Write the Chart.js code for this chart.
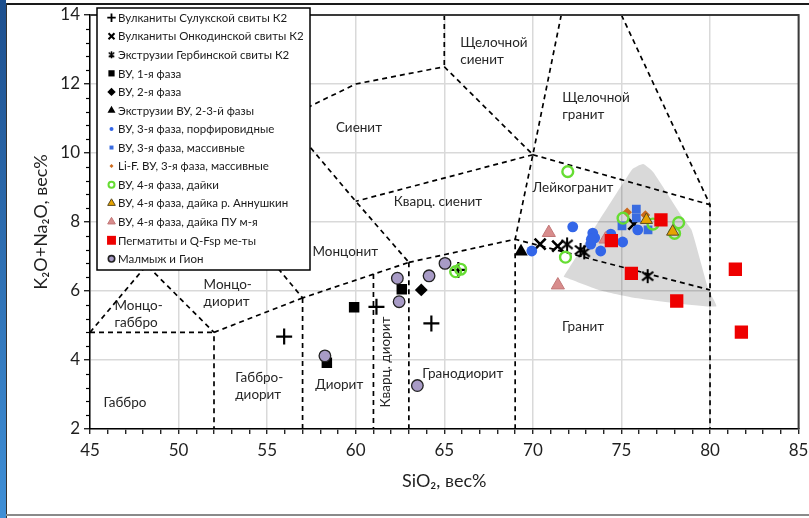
<!DOCTYPE html>
<html><head><meta charset="utf-8">
<script src="https://cdn.jsdelivr.net/npm/chart.js@4.4.1/dist/chart.umd.min.js"></script>
<style>
html,body{margin:0;padding:0;background:#fff;}
#wrap{position:relative;width:809px;height:518px;overflow:hidden;background:#fff;}
#bar{position:absolute;left:0;top:0;width:6px;height:518px;background:linear-gradient(#1d4f8e,#3f8fd6);}
#topline{position:absolute;left:6px;top:3px;right:0;height:2px;background:#1a1a1a;}
#leftline{position:absolute;left:6px;top:3px;width:1px;height:515px;background:#333;}
#botline{position:absolute;left:6px;top:514px;right:0;height:2px;background:#8a8a8a;}
canvas{position:absolute;left:0;top:0;}
</style></head><body>
<div id="wrap"><canvas id="c" width="809" height="518"></canvas><div id="bar"></div><div id="topline"></div><div id="leftline"></div><div id="botline"></div></div>
<script>
// ---- Data (SiO2, K2O+Na2O) ----
const seriesNames = [
 'Вулканиты Сулукской свиты К2','Вулканиты Онкодинской свиты К2','Экструзии Гербинской свиты К2',
 'ВУ, 1-я фаза','ВУ, 2-я фаза','Экструзии ВУ, 2-3-й фазы','ВУ, 3-я фаза, порфировидные',
 'ВУ, 3-я фаза, массивные','Li-F. ВУ, 3-я фаза, массивные','ВУ, 4-я фаза, дайки',
 'ВУ, 4-я фаза, дайка р. Аннушкин','ВУ, 4-я фаза, дайка ПУ м-я','Пегматиты и Q-Fsp ме-ты','Малмыж и Гион'];
const sulukSi = [55.96, 61.17, 64.27, 65.79];
const sulukAlk = [4.68, 5.54, 5.06, 6.61];
const onkoSi = [70.41, 71.4, 75.7];
const onkoAlk = [7.36, 7.3, 7.94];
const gerbSi = [71.93, 72.69, 72.9, 76.48];
const gerbAlk = [7.35, 7.19, 7.12, 6.43];
const ph1Si = [59.91, 62.6, 58.37];
const ph1Alk = [5.53, 6.05, 3.92];
const ph2Si = [63.7];
const ph2Alk = [6.03];
const ext23Si = [69.33];
const ext23Alk = [7.14];
const ph3pSi = [69.94, 72.25, 73.38, 73.49, 73.27, 73.83, 74.4, 75.07, 75.92, 73.3];
const ph3pAlk = [7.16, 7.86, 7.68, 7.54, 7.36, 7.16, 7.65, 7.42, 7.77, 7.5];
const ph3mSi = [75.84, 75.84, 75.03, 76.5];
const ph3mAlk = [8.37, 8.12, 7.89, 7.77];
const lifSi = [75.32, 76.35];
const lifAlk = [8.28, 8.2];
const dykeSi = [71.97, 71.84, 75.09, 76.78, 78.23, 78.0, 65.64, 65.92];
const dykeAlk = [9.46, 6.98, 8.11, 7.94, 7.98, 7.67, 6.56, 6.63];
const annSi = [76.41, 77.89];
const annAlk = [8.06, 7.72];
const puSi = [70.9, 71.41, 74.1];
const puAlk = [7.69, 6.17, 7.5];
const pegSi = [74.43, 77.23, 75.56, 78.12, 81.43, 81.77];
const pegAlk = [7.46, 8.06, 6.51, 5.71, 6.63, 4.81];
const malSi = [62.35, 62.45, 64.14, 65.04, 58.26, 63.48];
const malAlk = [6.37, 5.69, 6.44, 6.8, 4.12, 3.26];

// gray field (granite reference field)
const fieldSi = [71.74, 73.72, 75.76, 80.35, 79.92, 78.96, 78.51, 76.79, 76.22, 75.6, 71.74];
const fieldAlk = [6.41, 6.03, 5.8, 5.55, 6.03, 7.77, 8.08, 9.45, 9.68, 9.52, 6.41];

// classification boundaries (each a polyline)
const boundaries = [
 [[65,14],[65,12.5]],
 [[56.8,11.2],[57.4,11.35],[60,12],[65,12.5]],
 [[65,12.5],[70,9.95]],
 [[71.6,14],[70,9.95],[69,7.5],[69,2]],
 [[75,14],[80,8.5],[80,2]],
 [[70,9.95],[80,8.5]],
 [[70,9.95],[60,8.6]],
 [[56.8,10.55],[60,8.6],[63,6.83]],
 [[63,6.83],[69,7.5],[80,6.03]],
 [[63,6.83],[63,2]],
 [[55.3,6.85],[57,5.8],[63,6.83]],
 [[57,5.8],[57,2]],
 [[61,6.49],[61,2]],
 [[57,5.8],[52,4.8],[52,2]],
 [[45,4.8],[52,4.8]],
 [[45,4.8],[48.2,6.75],[52,4.8]]
];

// field names
const fieldNames = [
 {t:['Щелочной','сиенит'], x:65.9, y:13.19},
 {t:['Щелочной','гранит'], x:71.66, y:11.6},
 {t:['Сиенит'], x:58.88, y:10.74},
 {t:['Лейкогранит'], x:69.98, y:9.0},
 {t:['Кварц. сиенит'], x:62.15, y:8.6},
 {t:['Монцонит'], x:57.56, y:7.14},
 {t:['Монцо-','диорит'], x:51.41, y:6.19},
 {t:['Монцо-','габбро'], x:46.38, y:5.57},
 {t:['Габбро'], x:45.76, y:2.77},
 {t:['Габбро-','диорит'], x:53.2, y:3.5},
 {t:['Диорит'], x:57.71, y:3.3},
 {t:['Гранодиорит'], x:63.76, y:3.61},
 {t:['Гранит'], x:71.64, y:4.96},
 {t:['Кварц. диорит'], x:61.71, y:3.94, rot:true}
];

const zip = (a,b) => a.map((v,i)=>({x:v,y:b[i]}));

function makeAsterisk(size, lw){
  const c=document.createElement('canvas'); c.width=c.height=size;
  const g=c.getContext('2d'); g.strokeStyle='#000'; g.lineWidth=lw; g.lineCap='butt';
  const m=size/2, r=size/2-1;
  g.beginPath();
  g.moveTo(m-r*0.8,m-r*0.62); g.lineTo(m+r*0.8,m+r*0.62);
  g.moveTo(m+r*0.8,m-r*0.62); g.lineTo(m-r*0.8,m+r*0.62);
  g.moveTo(m,m-r); g.lineTo(m,m+r);
  g.stroke(); return c;
}
const astBig = makeAsterisk(16, 2);
const astSmall = makeAsterisk(9, 1.5);

const styles = [
 {ps:'cross', r:8, bg:'#000', bc:'#000', bw:2.2, lr:4.2, lbw:1.8},
 {ps:'crossRot', r:7.8, bg:'#000', bc:'#000', bw:2.6, lr:4.2, lbw:2},
 {ps:astBig, r:8, bg:'#000', bc:'#000', bw:1, lps:astSmall},
 {ps:'rect', r:7.4, bg:'#000', bc:'#000', bw:0, lr:4.4},
 {ps:'rectRot', r:6.4, bg:'#000', bc:'#000', bw:0, lr:4.2},
 {ps:'triangle', r:7.8, bg:'#000', bc:'#000', bw:0, lr:4.6},
 {ps:'circle', r:5.4, bg:'#3366e8', bc:'#3366e8', bw:0, lr:2},
 {ps:'rect', r:6.2, bg:'#3a6ce0', bc:'#3a6ce0', bw:0, lr:2.8},
 {ps:'rectRot', r:4.8, bg:'#cc6a1c', bc:'#cc6a1c', bw:0, lr:2},
 {ps:'circle', r:5.4, bg:'rgba(0,0,0,0)', bc:'#66dd33', bw:2.4, lr:3, lbw:2},
 {ps:'triangle', r:7, bg:'#e8a400', bc:'#5a4a20', bw:1, lr:4.4},
 {ps:'triangle', r:7.6, bg:'#d88c8c', bc:'#c27878', bw:1, lr:4.4},
 {ps:'rect', r:9.4, bg:'#ee0000', bc:'#ee0000', bw:0, lr:6.3},
 {ps:'circle', r:5.8, bg:'#a89bc6', bc:'#222', bw:1.3, lr:3.2, lbw:1.6}
];
const seriesData = [
 zip(sulukSi,sulukAlk), zip(onkoSi,onkoAlk), zip(gerbSi,gerbAlk), zip(ph1Si,ph1Alk),
 zip(ph2Si,ph2Alk), zip(ext23Si,ext23Alk), zip(ph3pSi,ph3pAlk), zip(ph3mSi,ph3mAlk),
 zip(lifSi,lifAlk), zip(dykeSi,dykeAlk), zip(annSi,annAlk), zip(puSi,puAlk),
 zip(pegSi,pegAlk), zip(malSi,malAlk)
];

const datasets = [];
seriesData.forEach((d,i)=>{
  const s=styles[i];
  datasets.push({label:seriesNames[i], data:d, pointStyle:s.ps, pointRadius:s.r, pointHoverRadius:s.r,
    backgroundColor:s.bg, borderColor:s.bc, pointBorderWidth:s.bw, borderWidth:s.bw, showLine:false,
    order: 20 - i});
});
datasets.push({type:'line', label:'field', data:zip(fieldSi,fieldAlk), fill:'shape',
  backgroundColor:'rgba(0,0,0,0.15)', borderWidth:0, borderColor:'rgba(0,0,0,0)', pointRadius:0, tension:0.15, order:100});
boundaries.forEach(b=>{
  datasets.push({type:'line', label:'b', data:b.map(p=>({x:p[0],y:p[1]})), borderColor:'#000', borderWidth:1.7,
    borderDash:[5,4], pointRadius:0, fill:false, tension:0, order:90});
});

const FONT='Lato, "Open Sans", sans-serif';

const deco = {
  id:'deco',
  beforeDatasetsDraw(chart){
    const {ctx, scales:{x,y}} = chart;
    ctx.save();
    ctx.fillStyle='#262626'; ctx.font='13.5px '+FONT; ctx.textBaseline='middle';
    fieldNames.forEach(f=>{
      const px=x.getPixelForValue(f.x), py=y.getPixelForValue(f.y);
      if(f.rot){
        ctx.save(); ctx.translate(px,py); ctx.rotate(-Math.PI/2); ctx.textAlign='center';
        ctx.fillText(f.t[0],0,0); ctx.restore();
      } else {
        ctx.textAlign='left';
        f.t.forEach((line,k)=>ctx.fillText(line,px,py+k*17));
      }
    });
    ctx.restore();
  },
  afterDraw(chart){
    const {ctx, chartArea:a, scales:{x,y}} = chart;
    ctx.save();
    ctx.strokeStyle='#000'; ctx.lineWidth=1.2;
    for(let k=0;k<=30;k++){
      const v=2+k*0.4; if(Math.abs(v/2-Math.round(v/2))<1e-6) continue;
      const py=Math.round(y.getPixelForValue(v))+0.5;
      ctx.beginPath(); ctx.moveTo(a.left-4,py); ctx.lineTo(a.left,py); ctx.stroke();
    }
    ctx.strokeStyle='#3a3a3a'; ctx.lineWidth=2;
    ctx.beginPath(); ctx.moveTo(a.left,a.top); ctx.lineTo(a.right,a.top); ctx.lineTo(a.right,a.bottom); ctx.stroke();
    // legend
    const lx=97, ly=8, lw=213, lh=262;
    ctx.fillStyle='#fff'; ctx.fillRect(lx,ly,lw,lh);
    ctx.strokeStyle='#000'; ctx.lineWidth=1.5; ctx.strokeRect(lx,ly,lw,lh);
    ctx.font='11.5px '+FONT; ctx.textBaseline='middle'; ctx.textAlign='left'; ctx.fillStyle='#1a1a1a';
    seriesNames.forEach((n,i)=>{
      const cy=17.7+i*18.55, cx=111.5, s=styles[i];
      ctx.save();
      ctx.fillStyle=s.bg; ctx.strokeStyle=s.bc; ctx.lineWidth=(s.lbw!==undefined?s.lbw:s.bw);
      Chart.helpers.drawPoint(ctx,{pointStyle:s.lps||s.ps, radius:s.lr||4, rotation:0, borderWidth:(s.lbw!==undefined?s.lbw:s.bw)},cx,cy);
      ctx.restore();
      ctx.fillStyle='#1a1a1a';
      ctx.fillText(n,118,cy+0.5);
    });
    ctx.restore();
  }
};

new Chart(document.getElementById('c'), {
  type:'scatter',
  data:{datasets},
  plugins:[deco],
  options:{
    responsive:false, animation:false, devicePixelRatio:1,
    layout:{padding:{left:0,right:9,top:15,bottom:0}},
    plugins:{legend:{display:false}, tooltip:{enabled:false}},
    scales:{
      x:{type:'linear', min:45, max:85,
        afterBuildTicks(s){ const t=[]; for(let v=45; v<=85; v++) t.push({value:v}); s.ticks=t; },
        afterFit(s){ s.height=89; s.paddingLeft=0; s.paddingRight=0; },
        ticks:{autoSkip:false, maxRotation:0, padding:6, color:'#1f1f1f', font:{family:FONT,size:17},
          callback:(v)=> (v%5===0? String(v):'')},
        grid:{color:(c)=> (c.tick && c.tick.value%5===0 ? '#d9d9d9':'rgba(0,0,0,0)'), lineWidth:1.5,
          tickColor:'#000', tickLength:5, tickWidth:1.2},
        border:{color:'#000', width:1.5},
        title:{display:true, text:'SiO₂, вес%', color:'#1f1f1f', font:{family:FONT,size:18}, padding:{top:0,bottom:26}}
      },
      y:{type:'linear', min:2, max:14,
        afterFit(s){ s.width=90; s.paddingTop=0; s.paddingBottom=0; },
        ticks:{stepSize:2, padding:4, color:'#1f1f1f', font:{family:FONT,size:17}},
        grid:{color:'#d9d9d9', lineWidth:1.5, tickColor:'#000', tickLength:6, tickWidth:1.2},
        border:{color:'#000', width:1.5},
        title:{display:true, text:'K₂O+Na₂O, вес%', color:'#1f1f1f', font:{family:FONT,size:18}, padding:{top:30,bottom:0}}
      }
    }
  }
});
</script>
</body></html>
